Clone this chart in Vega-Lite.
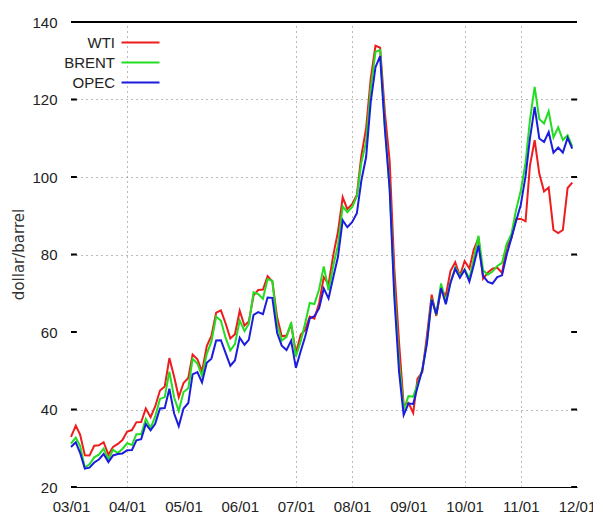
{
  "$schema": "https://vega.github.io/schema/vega-lite/v6.json",
  "width": 506,
  "height": 465,
  "autosize": {"type": "none"},
  "padding": {"left": 71, "top": 22, "right": 16, "bottom": 28},
  "background": "white",
  "config": {
    "view": {"stroke": null},
    "font": "Liberation Sans"
  },
  "datasets": {
    "xticks": [
      {"t": "2003-10-01"}, {"t": "2004-01-01"}, {"t": "2004-04-01"}, {"t": "2004-07-01"},
      {"t": "2005-04-01"}, {"t": "2005-07-01"}, {"t": "2006-04-01"}, {"t": "2006-10-01"},
      {"t": "2007-01-01"}, {"t": "2007-04-01"}, {"t": "2007-07-01"}, {"t": "2007-10-01"},
      {"t": "2008-01-01"}, {"t": "2008-04-01"}, {"t": "2008-07-01"}, {"t": "2010-01-01"},
      {"t": "2010-04-01"}, {"t": "2010-10-01"}, {"t": "2011-01-01"}
    ],
    "yticks": [{"v": 20}, {"v": 40}, {"v": 60}, {"v": 80}, {"v": 100}, {"v": 120}, {"v": 140}]
  },
  "data": {
    "format": {"parse": {"d": "utc:'%Y-%m-%d'"}},
    "values": [
      {"d": "2003-01-01", "WTI": 32.95, "BRENT": 31.18, "OPEC": 30.34},
      {"d": "2003-02-01", "WTI": 35.83, "BRENT": 32.77, "OPEC": 31.54},
      {"d": "2003-03-01", "WTI": 33.51, "BRENT": 30.61, "OPEC": 28.82},
      {"d": "2003-04-01", "WTI": 28.17, "BRENT": 25.00, "OPEC": 24.74},
      {"d": "2003-05-01", "WTI": 28.11, "BRENT": 25.86, "OPEC": 25.00},
      {"d": "2003-06-01", "WTI": 30.66, "BRENT": 27.65, "OPEC": 26.33},
      {"d": "2003-07-01", "WTI": 30.76, "BRENT": 28.35, "OPEC": 27.10},
      {"d": "2003-08-01", "WTI": 31.57, "BRENT": 29.89, "OPEC": 28.50},
      {"d": "2003-09-01", "WTI": 28.31, "BRENT": 27.11, "OPEC": 26.44},
      {"d": "2003-10-01", "WTI": 30.34, "BRENT": 29.61, "OPEC": 28.14},
      {"d": "2003-11-01", "WTI": 31.11, "BRENT": 28.75, "OPEC": 28.52},
      {"d": "2003-12-01", "WTI": 32.13, "BRENT": 29.81, "OPEC": 28.66},
      {"d": "2004-01-01", "WTI": 34.31, "BRENT": 31.28, "OPEC": 29.51},
      {"d": "2004-02-01", "WTI": 34.69, "BRENT": 30.86, "OPEC": 29.56},
      {"d": "2004-03-01", "WTI": 36.74, "BRENT": 33.63, "OPEC": 32.05},
      {"d": "2004-04-01", "WTI": 36.75, "BRENT": 33.59, "OPEC": 32.35},
      {"d": "2004-05-01", "WTI": 40.28, "BRENT": 37.57, "OPEC": 36.27},
      {"d": "2004-06-01", "WTI": 38.03, "BRENT": 35.18, "OPEC": 34.61},
      {"d": "2004-07-01", "WTI": 40.78, "BRENT": 38.22, "OPEC": 36.29},
      {"d": "2004-08-01", "WTI": 44.90, "BRENT": 42.74, "OPEC": 40.26},
      {"d": "2004-09-01", "WTI": 45.94, "BRENT": 43.20, "OPEC": 40.36},
      {"d": "2004-10-01", "WTI": 53.28, "BRENT": 49.78, "OPEC": 45.37},
      {"d": "2004-11-01", "WTI": 48.47, "BRENT": 43.11, "OPEC": 38.96},
      {"d": "2004-12-01", "WTI": 43.15, "BRENT": 39.60, "OPEC": 35.70},
      {"d": "2005-01-01", "WTI": 46.84, "BRENT": 44.51, "OPEC": 40.24},
      {"d": "2005-02-01", "WTI": 48.15, "BRENT": 45.48, "OPEC": 41.68},
      {"d": "2005-03-01", "WTI": 54.19, "BRENT": 53.10, "OPEC": 49.07},
      {"d": "2005-04-01", "WTI": 52.98, "BRENT": 51.88, "OPEC": 49.63},
      {"d": "2005-05-01", "WTI": 49.83, "BRENT": 48.65, "OPEC": 46.96},
      {"d": "2005-06-01", "WTI": 56.35, "BRENT": 54.35, "OPEC": 52.04},
      {"d": "2005-07-01", "WTI": 59.00, "BRENT": 57.52, "OPEC": 53.13},
      {"d": "2005-08-01", "WTI": 64.99, "BRENT": 63.98, "OPEC": 57.82},
      {"d": "2005-09-01", "WTI": 65.59, "BRENT": 62.91, "OPEC": 57.88},
      {"d": "2005-10-01", "WTI": 62.26, "BRENT": 58.54, "OPEC": 54.63},
      {"d": "2005-11-01", "WTI": 58.32, "BRENT": 55.24, "OPEC": 51.29},
      {"d": "2005-12-01", "WTI": 59.41, "BRENT": 56.86, "OPEC": 52.65},
      {"d": "2006-01-01", "WTI": 65.49, "BRENT": 62.99, "OPEC": 58.52},
      {"d": "2006-02-01", "WTI": 61.63, "BRENT": 60.21, "OPEC": 56.71},
      {"d": "2006-03-01", "WTI": 62.69, "BRENT": 62.06, "OPEC": 57.97},
      {"d": "2006-04-01", "WTI": 69.44, "BRENT": 70.26, "OPEC": 64.44},
      {"d": "2006-05-01", "WTI": 70.84, "BRENT": 69.78, "OPEC": 65.11},
      {"d": "2006-06-01", "WTI": 70.95, "BRENT": 68.56, "OPEC": 64.60},
      {"d": "2006-07-01", "WTI": 74.41, "BRENT": 73.67, "OPEC": 68.89},
      {"d": "2006-08-01", "WTI": 73.04, "BRENT": 73.23, "OPEC": 68.81},
      {"d": "2006-09-01", "WTI": 63.80, "BRENT": 61.96, "OPEC": 59.80},
      {"d": "2006-10-01", "WTI": 58.89, "BRENT": 57.81, "OPEC": 56.47},
      {"d": "2006-11-01", "WTI": 59.08, "BRENT": 58.76, "OPEC": 55.33},
      {"d": "2006-12-01", "WTI": 61.96, "BRENT": 62.47, "OPEC": 57.76},
      {"d": "2007-01-01", "WTI": 54.51, "BRENT": 53.68, "OPEC": 50.73},
      {"d": "2007-02-01", "WTI": 59.28, "BRENT": 57.56, "OPEC": 55.03},
      {"d": "2007-03-01", "WTI": 60.44, "BRENT": 62.05, "OPEC": 58.62},
      {"d": "2007-04-01", "WTI": 63.98, "BRENT": 67.49, "OPEC": 63.51},
      {"d": "2007-05-01", "WTI": 63.46, "BRENT": 67.21, "OPEC": 64.06},
      {"d": "2007-06-01", "WTI": 67.49, "BRENT": 71.05, "OPEC": 66.14},
      {"d": "2007-07-01", "WTI": 74.12, "BRENT": 76.93, "OPEC": 71.25},
      {"d": "2007-08-01", "WTI": 72.36, "BRENT": 70.76, "OPEC": 68.65},
      {"d": "2007-09-01", "WTI": 79.92, "BRENT": 77.17, "OPEC": 74.19},
      {"d": "2007-10-01", "WTI": 85.80, "BRENT": 82.34, "OPEC": 79.34},
      {"d": "2007-11-01", "WTI": 94.77, "BRENT": 92.41, "OPEC": 88.84},
      {"d": "2007-12-01", "WTI": 91.69, "BRENT": 90.93, "OPEC": 87.05},
      {"d": "2008-01-01", "WTI": 92.97, "BRENT": 92.18, "OPEC": 88.35},
      {"d": "2008-02-01", "WTI": 95.39, "BRENT": 94.99, "OPEC": 90.64},
      {"d": "2008-03-01", "WTI": 105.45, "BRENT": 103.64, "OPEC": 99.03},
      {"d": "2008-04-01", "WTI": 112.58, "BRENT": 109.07, "OPEC": 105.16},
      {"d": "2008-05-01", "WTI": 125.40, "BRENT": 122.80, "OPEC": 119.39},
      {"d": "2008-06-01", "WTI": 133.88, "BRENT": 132.32, "OPEC": 128.33},
      {"d": "2008-07-01", "WTI": 133.37, "BRENT": 132.72, "OPEC": 131.22},
      {"d": "2008-08-01", "WTI": 116.67, "BRENT": 113.24, "OPEC": 112.41},
      {"d": "2008-09-01", "WTI": 104.11, "BRENT": 97.23, "OPEC": 96.85},
      {"d": "2008-10-01", "WTI": 76.61, "BRENT": 71.58, "OPEC": 69.16},
      {"d": "2008-11-01", "WTI": 57.31, "BRENT": 52.45, "OPEC": 49.76},
      {"d": "2008-12-01", "WTI": 41.12, "BRENT": 39.95, "OPEC": 38.60},
      {"d": "2009-01-01", "WTI": 41.71, "BRENT": 43.44, "OPEC": 41.52},
      {"d": "2009-02-01", "WTI": 39.09, "BRENT": 43.32, "OPEC": 41.41},
      {"d": "2009-03-01", "WTI": 47.94, "BRENT": 46.54, "OPEC": 45.78},
      {"d": "2009-04-01", "WTI": 49.65, "BRENT": 50.18, "OPEC": 50.20},
      {"d": "2009-05-01", "WTI": 59.03, "BRENT": 57.30, "OPEC": 56.98},
      {"d": "2009-06-01", "WTI": 69.64, "BRENT": 68.61, "OPEC": 68.36},
      {"d": "2009-07-01", "WTI": 64.15, "BRENT": 64.44, "OPEC": 64.59},
      {"d": "2009-08-01", "WTI": 71.05, "BRENT": 72.51, "OPEC": 71.35},
      {"d": "2009-09-01", "WTI": 69.41, "BRENT": 67.65, "OPEC": 67.17},
      {"d": "2009-10-01", "WTI": 75.72, "BRENT": 72.77, "OPEC": 72.67},
      {"d": "2009-11-01", "WTI": 77.99, "BRENT": 76.66, "OPEC": 76.29},
      {"d": "2009-12-01", "WTI": 74.47, "BRENT": 74.46, "OPEC": 74.01},
      {"d": "2010-01-01", "WTI": 78.33, "BRENT": 76.17, "OPEC": 76.01},
      {"d": "2010-02-01", "WTI": 76.39, "BRENT": 73.75, "OPEC": 72.99},
      {"d": "2010-03-01", "WTI": 81.20, "BRENT": 78.83, "OPEC": 77.21},
      {"d": "2010-04-01", "WTI": 84.29, "BRENT": 84.82, "OPEC": 82.33},
      {"d": "2010-05-01", "WTI": 73.74, "BRENT": 75.95, "OPEC": 74.48},
      {"d": "2010-06-01", "WTI": 75.34, "BRENT": 74.76, "OPEC": 72.95},
      {"d": "2010-07-01", "WTI": 76.32, "BRENT": 75.58, "OPEC": 72.51},
      {"d": "2010-08-01", "WTI": 76.60, "BRENT": 77.04, "OPEC": 74.15},
      {"d": "2010-09-01", "WTI": 75.24, "BRENT": 77.84, "OPEC": 74.63},
      {"d": "2010-10-01", "WTI": 81.89, "BRENT": 82.67, "OPEC": 79.93},
      {"d": "2010-11-01", "WTI": 84.25, "BRENT": 85.28, "OPEC": 84.29},
      {"d": "2010-12-01", "WTI": 89.15, "BRENT": 91.45, "OPEC": 88.56},
      {"d": "2011-01-01", "WTI": 89.17, "BRENT": 96.52, "OPEC": 92.83},
      {"d": "2011-02-01", "WTI": 88.58, "BRENT": 103.72, "OPEC": 100.29},
      {"d": "2011-03-01", "WTI": 102.86, "BRENT": 114.64, "OPEC": 109.84},
      {"d": "2011-04-01", "WTI": 109.53, "BRENT": 123.26, "OPEC": 118.09},
      {"d": "2011-05-01", "WTI": 100.90, "BRENT": 114.99, "OPEC": 109.94},
      {"d": "2011-06-01", "WTI": 96.26, "BRENT": 113.83, "OPEC": 109.04},
      {"d": "2011-07-01", "WTI": 97.30, "BRENT": 116.97, "OPEC": 111.62},
      {"d": "2011-08-01", "WTI": 86.33, "BRENT": 110.22, "OPEC": 106.26},
      {"d": "2011-09-01", "WTI": 85.52, "BRENT": 112.83, "OPEC": 107.61},
      {"d": "2011-10-01", "WTI": 86.32, "BRENT": 109.55, "OPEC": 106.29},
      {"d": "2011-11-01", "WTI": 97.16, "BRENT": 110.77, "OPEC": 110.08},
      {"d": "2011-12-01", "WTI": 98.56, "BRENT": 107.87, "OPEC": 107.34}
    ]
  },
  "transform": [{"fold": ["WTI", "BRENT", "OPEC"], "as": ["series", "price"]}],
  "layer": [
    {
      "mark": {"type": "line", "strokeOpacity": 0},
      "encoding": {
        "x": {
          "field": "d", "type": "temporal",
          "scale": {"type": "utc", "domain": [{"year": 2003, "month": 1, "date": 1, "utc": true}, {"year": 2012, "month": 1, "date": 1, "utc": true}], "nice": false},
          "axis": {
            "orient": "top", "title": null, "labels": false, "ticks": false, "domain": false,
            "values": [
              {"year": 2004, "month": 1, "date": 1, "utc": true},
              {"year": 2007, "month": 1, "date": 1, "utc": true},
              {"year": 2008, "month": 1, "date": 1, "utc": true},
              {"year": 2010, "month": 1, "date": 1, "utc": true},
              {"year": 2011, "month": 1, "date": 1, "utc": true}
            ],
            "grid": true, "gridDash": [1, 4], "gridColor": "#777777", "gridWidth": 1, "gridOpacity": 1
          }
        },
        "y": {
          "field": "price", "type": "quantitative",
          "scale": {"domain": [20, 140], "nice": false, "zero": false},
          "axis": {
            "orient": "right", "title": null, "labels": false, "ticks": false, "domain": false,
            "values": [40, 80, 100, 120],
            "grid": true, "gridDash": [1, 4], "gridColor": "#777777", "gridWidth": 1, "gridOpacity": 1
          }
        }
      }
    },
    {
      "mark": {"type": "rule", "color": "#000000", "strokeWidth": 1},
      "encoding": {
        "y": {"datum": 140, "type": "quantitative", "scale": {"domain": [20, 140], "nice": false, "zero": false}, "axis": null}
      }
    },
    {
      "data": {"name": "xticks", "format": {"parse": {"t": "utc:'%Y-%m-%d'"}}},
      "mark": {"type": "rule", "color": "#000000", "strokeWidth": 1},
      "encoding": {
        "x": {"field": "t", "type": "temporal", "scale": {"type": "utc", "domain": [{"year": 2003, "month": 1, "date": 1, "utc": true}, {"year": 2012, "month": 1, "date": 1, "utc": true}], "nice": false}, "axis": null},
        "y": {"datum": 20, "type": "quantitative", "scale": {"domain": [20, 140], "nice": false, "zero": false}, "axis": null},
        "y2": {"datum": 21.6}
      }
    },
    {
      "data": {"name": "xticks", "format": {"parse": {"t": "utc:'%Y-%m-%d'"}}},
      "mark": {"type": "rule", "color": "#000000", "strokeWidth": 1},
      "encoding": {
        "x": {"field": "t", "type": "temporal", "scale": {"type": "utc", "domain": [{"year": 2003, "month": 1, "date": 1, "utc": true}, {"year": 2012, "month": 1, "date": 1, "utc": true}], "nice": false}, "axis": null},
        "y": {"datum": 140, "type": "quantitative", "scale": {"domain": [20, 140], "nice": false, "zero": false}, "axis": null},
        "y2": {"datum": 138.4}
      }
    },
    {
      "data": {"name": "yticks"},
      "mark": {"type": "rule", "color": "#000000", "strokeWidth": 2},
      "encoding": {
        "y": {"field": "v", "type": "quantitative", "scale": {"domain": [20, 140], "nice": false, "zero": false}, "axis": null},
        "x": {"datum": {"year": 2003, "month": 1, "date": 1, "utc": true}, "type": "temporal", "scale": {"type": "utc", "domain": [{"year": 2003, "month": 1, "date": 1, "utc": true}, {"year": 2012, "month": 1, "date": 1, "utc": true}], "nice": false}, "axis": null},
        "x2": {"datum": {"year": 2003, "month": 2, "date": 8, "utc": true}}
      }
    },
    {
      "data": {"name": "yticks"},
      "mark": {"type": "rule", "color": "#000000", "strokeWidth": 2},
      "encoding": {
        "y": {"field": "v", "type": "quantitative", "scale": {"domain": [20, 140], "nice": false, "zero": false}, "axis": null},
        "x": {"datum": {"year": 2011, "month": 11, "date": 24, "utc": true}, "type": "temporal", "scale": {"type": "utc", "domain": [{"year": 2003, "month": 1, "date": 1, "utc": true}, {"year": 2012, "month": 1, "date": 1, "utc": true}], "nice": false}, "axis": null},
        "x2": {"datum": {"year": 2012, "month": 1, "date": 1, "utc": true}}
      }
    },
    {
      "mark": {"type": "line", "strokeWidth": 2, "strokeJoin": "miter"},
      "encoding": {
        "x": {
          "field": "d", "type": "temporal",
          "scale": {"type": "utc", "domain": [{"year": 2003, "month": 1, "date": 1, "utc": true}, {"year": 2012, "month": 1, "date": 1, "utc": true}], "nice": false},
          "axis": {
            "orient": "bottom", "title": null, "grid": false, "ticks": false,
            "domain": true, "domainColor": "#000000", "domainWidth": 1,
            "labelExpr": "utcFormat(datum.value, '%y/%m')", "labelFlush": false,
            "values": [
              {"year": 2003, "month": 1, "date": 1, "utc": true},
              {"year": 2004, "month": 1, "date": 1, "utc": true},
              {"year": 2005, "month": 1, "date": 1, "utc": true},
              {"year": 2006, "month": 1, "date": 1, "utc": true},
              {"year": 2007, "month": 1, "date": 1, "utc": true},
              {"year": 2008, "month": 1, "date": 1, "utc": true},
              {"year": 2009, "month": 1, "date": 1, "utc": true},
              {"year": 2010, "month": 1, "date": 1, "utc": true},
              {"year": 2011, "month": 1, "date": 1, "utc": true},
              {"year": 2012, "month": 1, "date": 1, "utc": true}
            ],
            "labelFontSize": 15, "labelColor": "#222222", "labelPadding": 12, "labelOverlap": false
          }
        },
        "y": {
          "field": "price", "type": "quantitative",
          "scale": {"domain": [20, 140], "nice": false, "zero": false},
          "axis": {
            "orient": "left", "title": "dollar/barrel", "grid": false, "domain": false, "ticks": false,
            "values": [20, 40, 60, 80, 100, 120, 140],
            "labelFontSize": 15, "labelColor": "#222222", "labelPadding": 14,
            "titleFont": "DejaVu Sans", "titleFontSize": 15, "titleFontWeight": "normal", "titleColor": "#333333",
            "titleX": -45, "titleY": 232
          }
        },
        "color": {
          "field": "series", "type": "nominal",
          "scale": {"domain": ["WTI", "BRENT", "OPEC"], "range": ["#ee1c1c", "#22dd22", "#1c1cdd"]},
          "legend": {
            "orient": "none", "legendX": 59, "legendY": 10, "title": null, "padding": 0,
            "symbolType": "M-2,0H2", "symbolSize": 361, "symbolStrokeWidth": 2,
            "labelAlign": "right", "labelOffset": -36, "labelFontSize": 15, "labelColor": "#222222",
            "rowPadding": 1
          }
        }
      }
    }
  ],
  "resolve": {"axis": {"x": "independent", "y": "independent"}}
}
